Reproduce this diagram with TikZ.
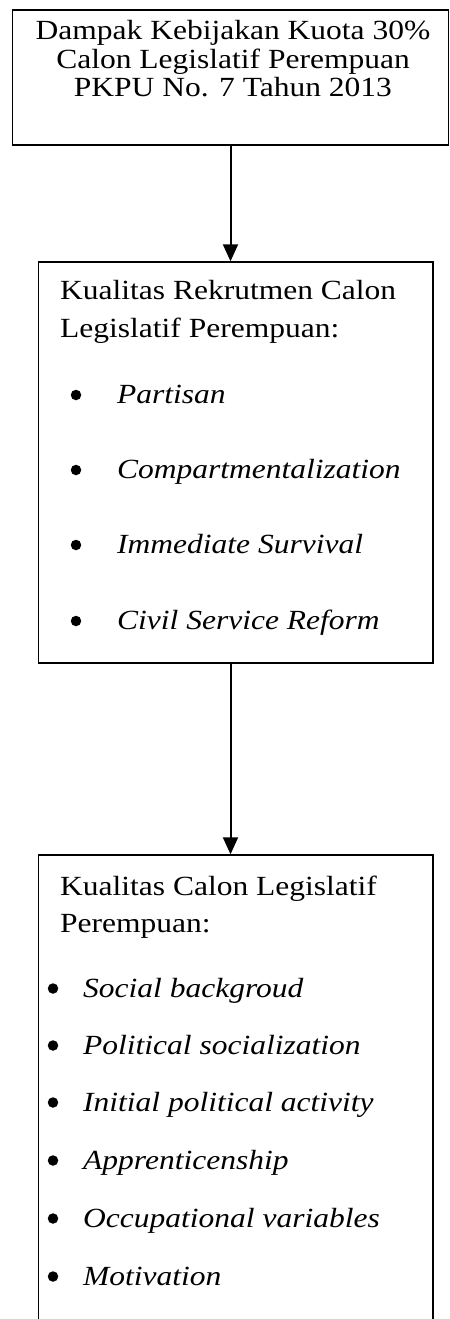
\documentclass[tikz,border=0pt]{standalone}
\usepackage{fontspec}
\setmainfont{Liberation Serif}
\usetikzlibrary{arrows.meta}
\newcommand{\vsq}[1]{\scalebox{1}[0.88]{#1}}
\tikzset{
  box/.style={draw=black, line width=1.4bp, inner sep=0pt, fill=none},
  txt/.style={inner sep=0pt, anchor=base west, font=\fontsize{31.5bp}{36bp}\selectfont},
  ctxt/.style={inner sep=0pt, anchor=base, font=\fontsize{31.5bp}{36bp}\selectfont},
  itxt/.style={txt, font=\fontsize{31.5bp}{36bp}\selectfont\itshape},
  bul/.style={circle, fill=black, draw=none, inner sep=0pt, minimum size=10.5bp},
  conn/.style={line width=2bp, -{Triangle[width=15bp,length=17bp]}}
}
\begin{document}
\begin{tikzpicture}[x=1bp,y=-1bp]
\useasboundingbox (0,0) rectangle (450,1319);
\clip (0,0) rectangle (450,1319);
% boxes
\node[box, minimum width=436bp, minimum height=135bp] (top) at (230.5,77.5) {};
\node[box, minimum width=394.5bp, minimum height=401bp] (b2) at (235.75,462.5) {};
\node[box, minimum width=394.5bp, minimum height=490bp] (b3) at (235.75,1100) {};
% top box text
\node[ctxt] (t1) at (233,40) {\vsq{Dampak Kebijakan Kuota 30\%}};
\node[ctxt] (t2) at (233,68.5) {\vsq{Calon Legislatif Perempuan}};
\node[ctxt] (t3) at (233,97) {\vsq{PKPU No. 7 Tahun 2013}};
% box 2 text
\node[txt] (r1) at (60,300) {\vsq{Kualitas Rekrutmen Calon}};
\node[txt] (r2) at (60,337) {\vsq{Legislatif Perempuan:}};
\node[bul] (rb1) at (76,395) {};
\node[itxt] (ri1) at (117,403) {\vsq{Partisan}};
\node[bul] (rb2) at (76,470) {};
\node[itxt] (ri2) at (117,478) {\vsq{Compartmentalization}};
\node[bul] (rb3) at (76,545) {};
\node[itxt] (ri3) at (117,553) {\vsq{Immediate Survival}};
\node[bul] (rb4) at (76,621) {};
\node[itxt] (ri4) at (117,629) {\vsq{Civil Service Reform}};
% box 3 text
\node[txt] (q1) at (60,895) {\vsq{Kualitas Calon Legislatif}};
\node[txt] (q2) at (60,932) {\vsq{Perempuan:}};
\node[bul] (qb1) at (53,988.5) {};
\node[itxt] (qi1) at (83,997) {\vsq{Social backgroud}};
\node[bul] (qb2) at (53,1045.5) {};
\node[itxt] (qi2) at (83,1054) {\vsq{Political socialization}};
\node[bul] (qb3) at (53,1102.5) {};
\node[itxt] (qi3) at (83,1111) {\vsq{Initial political activity}};
\node[bul] (qb4) at (53,1160.5) {};
\node[itxt] (qi4) at (83,1169) {\vsq{Apprenticenship}};
\node[bul] (qb5) at (53,1218.5) {};
\node[itxt] (qi5) at (83,1227) {\vsq{Occupational variables}};
\node[bul] (qb6) at (53,1276.5) {};
\node[itxt] (qi6) at (83,1285) {\vsq{Motivation}};
% connectors
\draw[conn] (top.south) -- (top.south |- b2.north);
\draw[conn] (b2.south -| top.south) -- (top.south |- b3.north);
\end{tikzpicture}
\end{document}
